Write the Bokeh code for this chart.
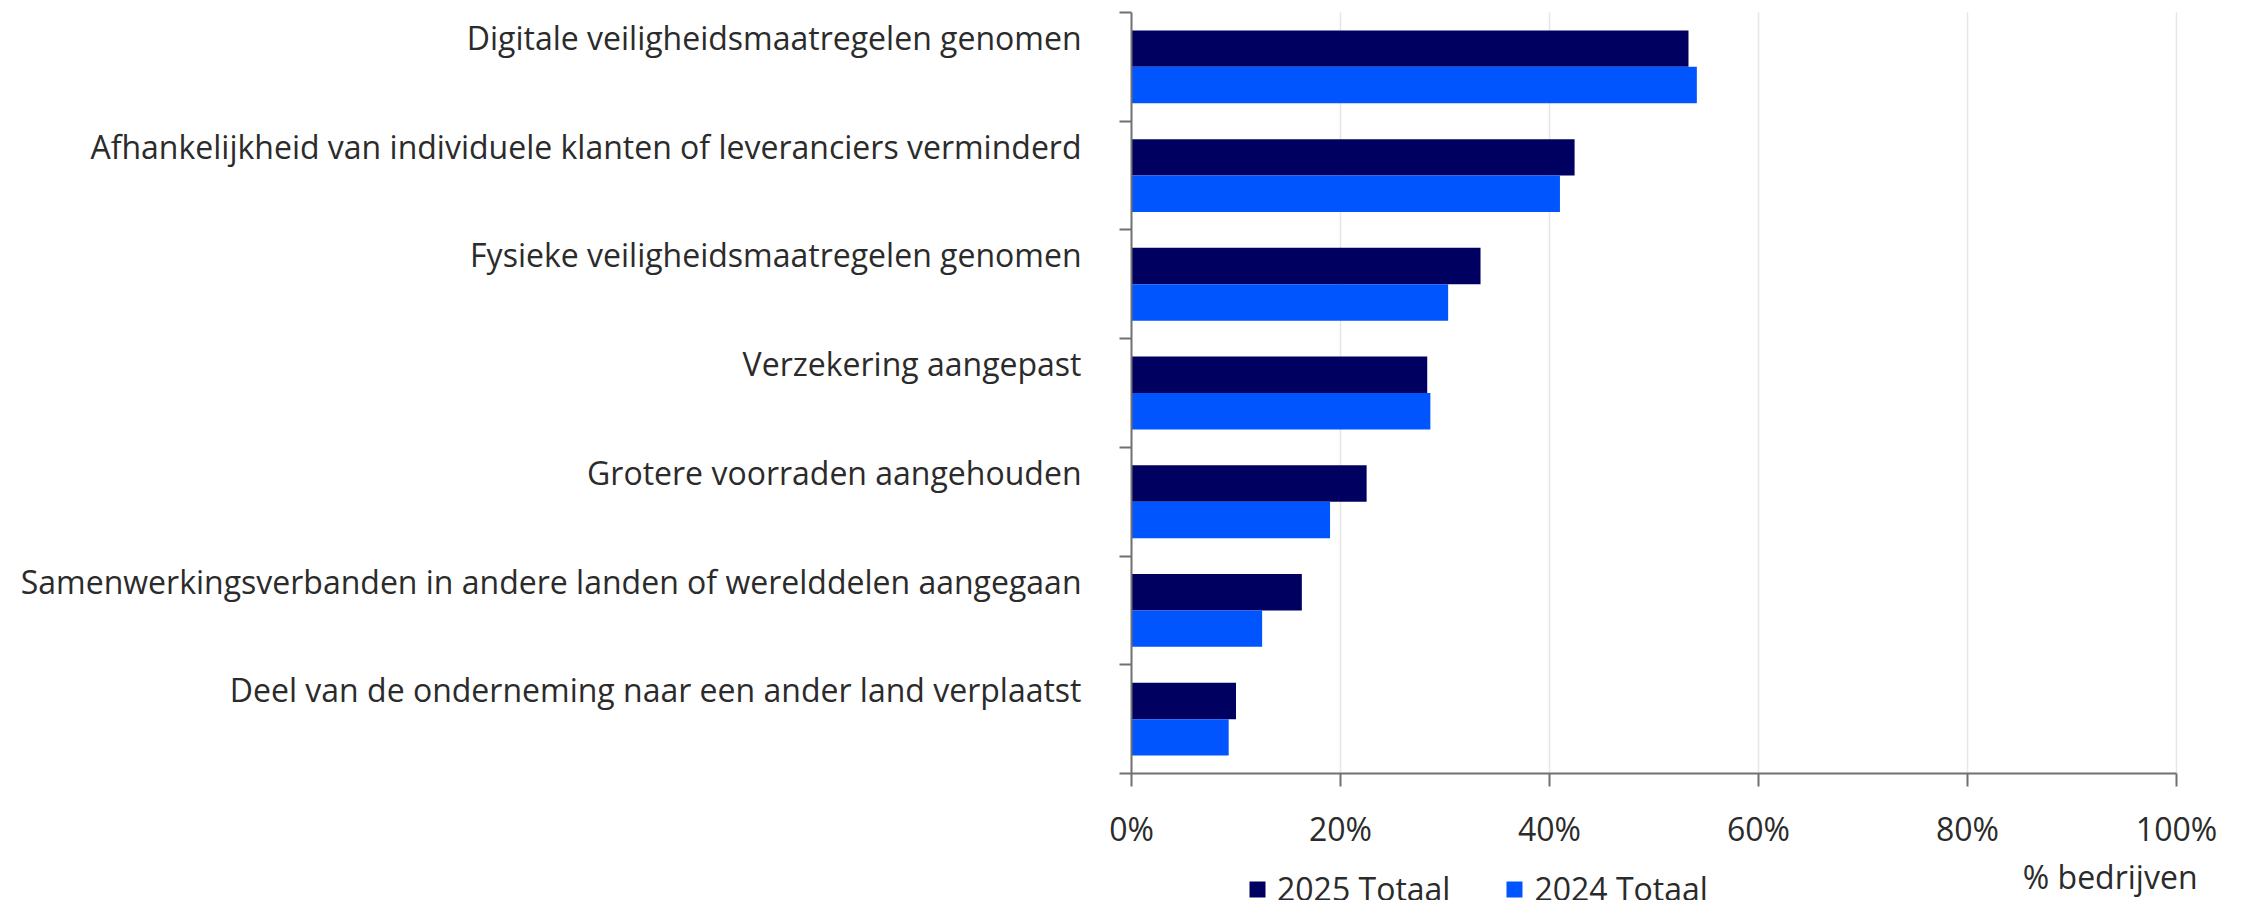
from bokeh.plotting import figure
from bokeh.models import (Range1d, FixedTicker, ColumnDataSource, Legend, LegendItem, Label)
from bokeh.embed import file_html
from bokeh.resources import INLINE

# ---------------- data ----------------
categories = [
    "Digitale veiligheidsmaatregelen genomen",
    "Afhankelijkheid van individuele klanten of leveranciers verminderd",
    "Fysieke veiligheidsmaatregelen genomen",
    "Verzekering aangepast",
    "Grotere voorraden aangehouden",
    "Samenwerkingsverbanden in andere landen of werelddelen aangegaan",
    "Deel van de onderneming naar een ander land verplaatst",
]
values_2025 = [53.3, 42.4, 33.4, 28.3, 22.5, 16.3, 10.0]
values_2024 = [54.1, 41.0, 30.3, 28.6, 19.0, 12.5, 9.3]
series_names = ["2025 Totaal", "2024 Totaal"]
x_ticks = [0, 20, 40, 60, 80, 100]
x_tick_labels = ["0%", "20%", "40%", "60%", "80%", "100%"]
x_axis_title = "% bedrijven"

# ---------------- style / layout ----------------
DARK = "#000060"
LIGHT = "#0055ff"
TEXT = "#2b2b2b"
AXIS = "#707070"
GRID = "#e6e6e6"
FONT = "Open Sans"
FS = "32px"

W, H = 2240, 900
AX_LEFT, AX_TOP = 1131, 12        # pixel of x=0 and of the top of the category area
AX_RIGHT, AX_BOTTOM = 2176, 773   # pixel of x=100% and of y=0

n = len(categories)
BAND = 100                        # y units per category band
bar_h = 33.5
label_drop = 23                   # label position below band top
band_tops = [BAND * (n - i) for i in range(n)]
centers = [t - BAND // 2 for t in band_tops]
label_pos = [t - label_drop for t in band_tops]

x_max = x_ticks[-1]
px_x = (AX_RIGHT - AX_LEFT) / x_max          # px per x unit
px_y = (AX_BOTTOM - AX_TOP) / (n * BAND)     # px per y unit

# the frame covers the whole canvas; axes are drawn at x = 0 / y = 0
p = figure(width=W, height=H,
           x_range=Range1d(-AX_LEFT / px_x, (W - AX_LEFT) / px_x),
           y_range=Range1d(-(H - AX_BOTTOM) / px_y, n * BAND + AX_TOP / px_y),
           output_backend="svg", toolbar_location=None,
           min_border_left=0, min_border_right=0,
           min_border_top=0, min_border_bottom=0)
p.outline_line_color = None
p.background_fill_color = "white"
p.xgrid.visible = False
p.ygrid.visible = False

# vertical grid lines at the x ticks, spanning the category area only
p.segment(x0=x_ticks[1:], x1=x_ticks[1:], y0=[0] * (len(x_ticks) - 1),
          y1=[n * BAND] * (len(x_ticks) - 1), line_color=GRID, line_width=1.5)

src25 = ColumnDataSource(dict(y=[c + bar_h / 2 for c in centers], right=values_2025))
src24 = ColumnDataSource(dict(y=[c - bar_h / 2 for c in centers], right=values_2024))
r25 = p.hbar(y="y", left=0, right="right", height=bar_h, source=src25,
             fill_color=DARK, line_color=None)
r24 = p.hbar(y="y", left=0, right="right", height=bar_h, source=src24,
             fill_color=LIGHT, line_color=None)

# x axis drawn at y = 0
xa = p.xaxis[0]
xa.fixed_location = 0
xa.bounds = (0, x_max)
xa.ticker = FixedTicker(ticks=x_ticks)
xa.major_label_overrides = {t: l for t, l in zip(x_ticks, x_tick_labels)}
xa.major_label_text_font = FONT
xa.major_label_text_font_size = FS
xa.major_label_text_color = TEXT
xa.major_label_standoff = 20
xa.major_tick_out = 13
xa.major_tick_in = 0
xa.minor_tick_out = 0
xa.minor_tick_in = 0
xa.axis_line_color = AXIS
xa.axis_line_width = 2
xa.major_tick_line_color = AXIS
xa.major_tick_line_width = 2

# y axis drawn at x = 0: labels at major ticks (no marks), band boundaries as minor ticks
ya = p.yaxis[0]
ya.fixed_location = 0
ya.bounds = (0, n * BAND)
ya.ticker = FixedTicker(ticks=label_pos, minor_ticks=[BAND * k for k in range(n + 1)])
ya.major_label_overrides = {t: c for t, c in zip(label_pos, categories)}
ya.major_label_text_font = FONT
ya.major_label_text_font_size = FS
ya.major_label_text_color = TEXT
ya.major_label_standoff = 38
ya.major_tick_out = 0
ya.major_tick_in = 0
ya.major_tick_line_color = None
ya.minor_tick_out = 12
ya.minor_tick_in = 0
ya.minor_tick_line_color = AXIS
ya.minor_tick_line_width = 2
ya.axis_line_color = AXIS
ya.axis_line_width = 2

# axis title
p.add_layout(Label(x=x_max, x_offset=21, y=-(876 - AX_BOTTOM) / px_y,
                   text=x_axis_title, text_align="right", text_baseline="alphabetic",
                   text_font=FONT, text_font_size=FS, text_color=TEXT))

legend = Legend(items=[LegendItem(label=series_names[0], renderers=[r25]),
                       LegendItem(label=series_names[1], renderers=[r24])],
                orientation="horizontal", location=(1247, -10),
                glyph_width=20, glyph_height=20, label_standoff=10, spacing=54,
                padding=0, margin=0, border_line_color=None,
                background_fill_alpha=0,
                label_text_font=FONT, label_text_font_size=FS,
                label_text_color=TEXT)
p.add_layout(legend)

open("out.html", "w").write(file_html(p, INLINE))
